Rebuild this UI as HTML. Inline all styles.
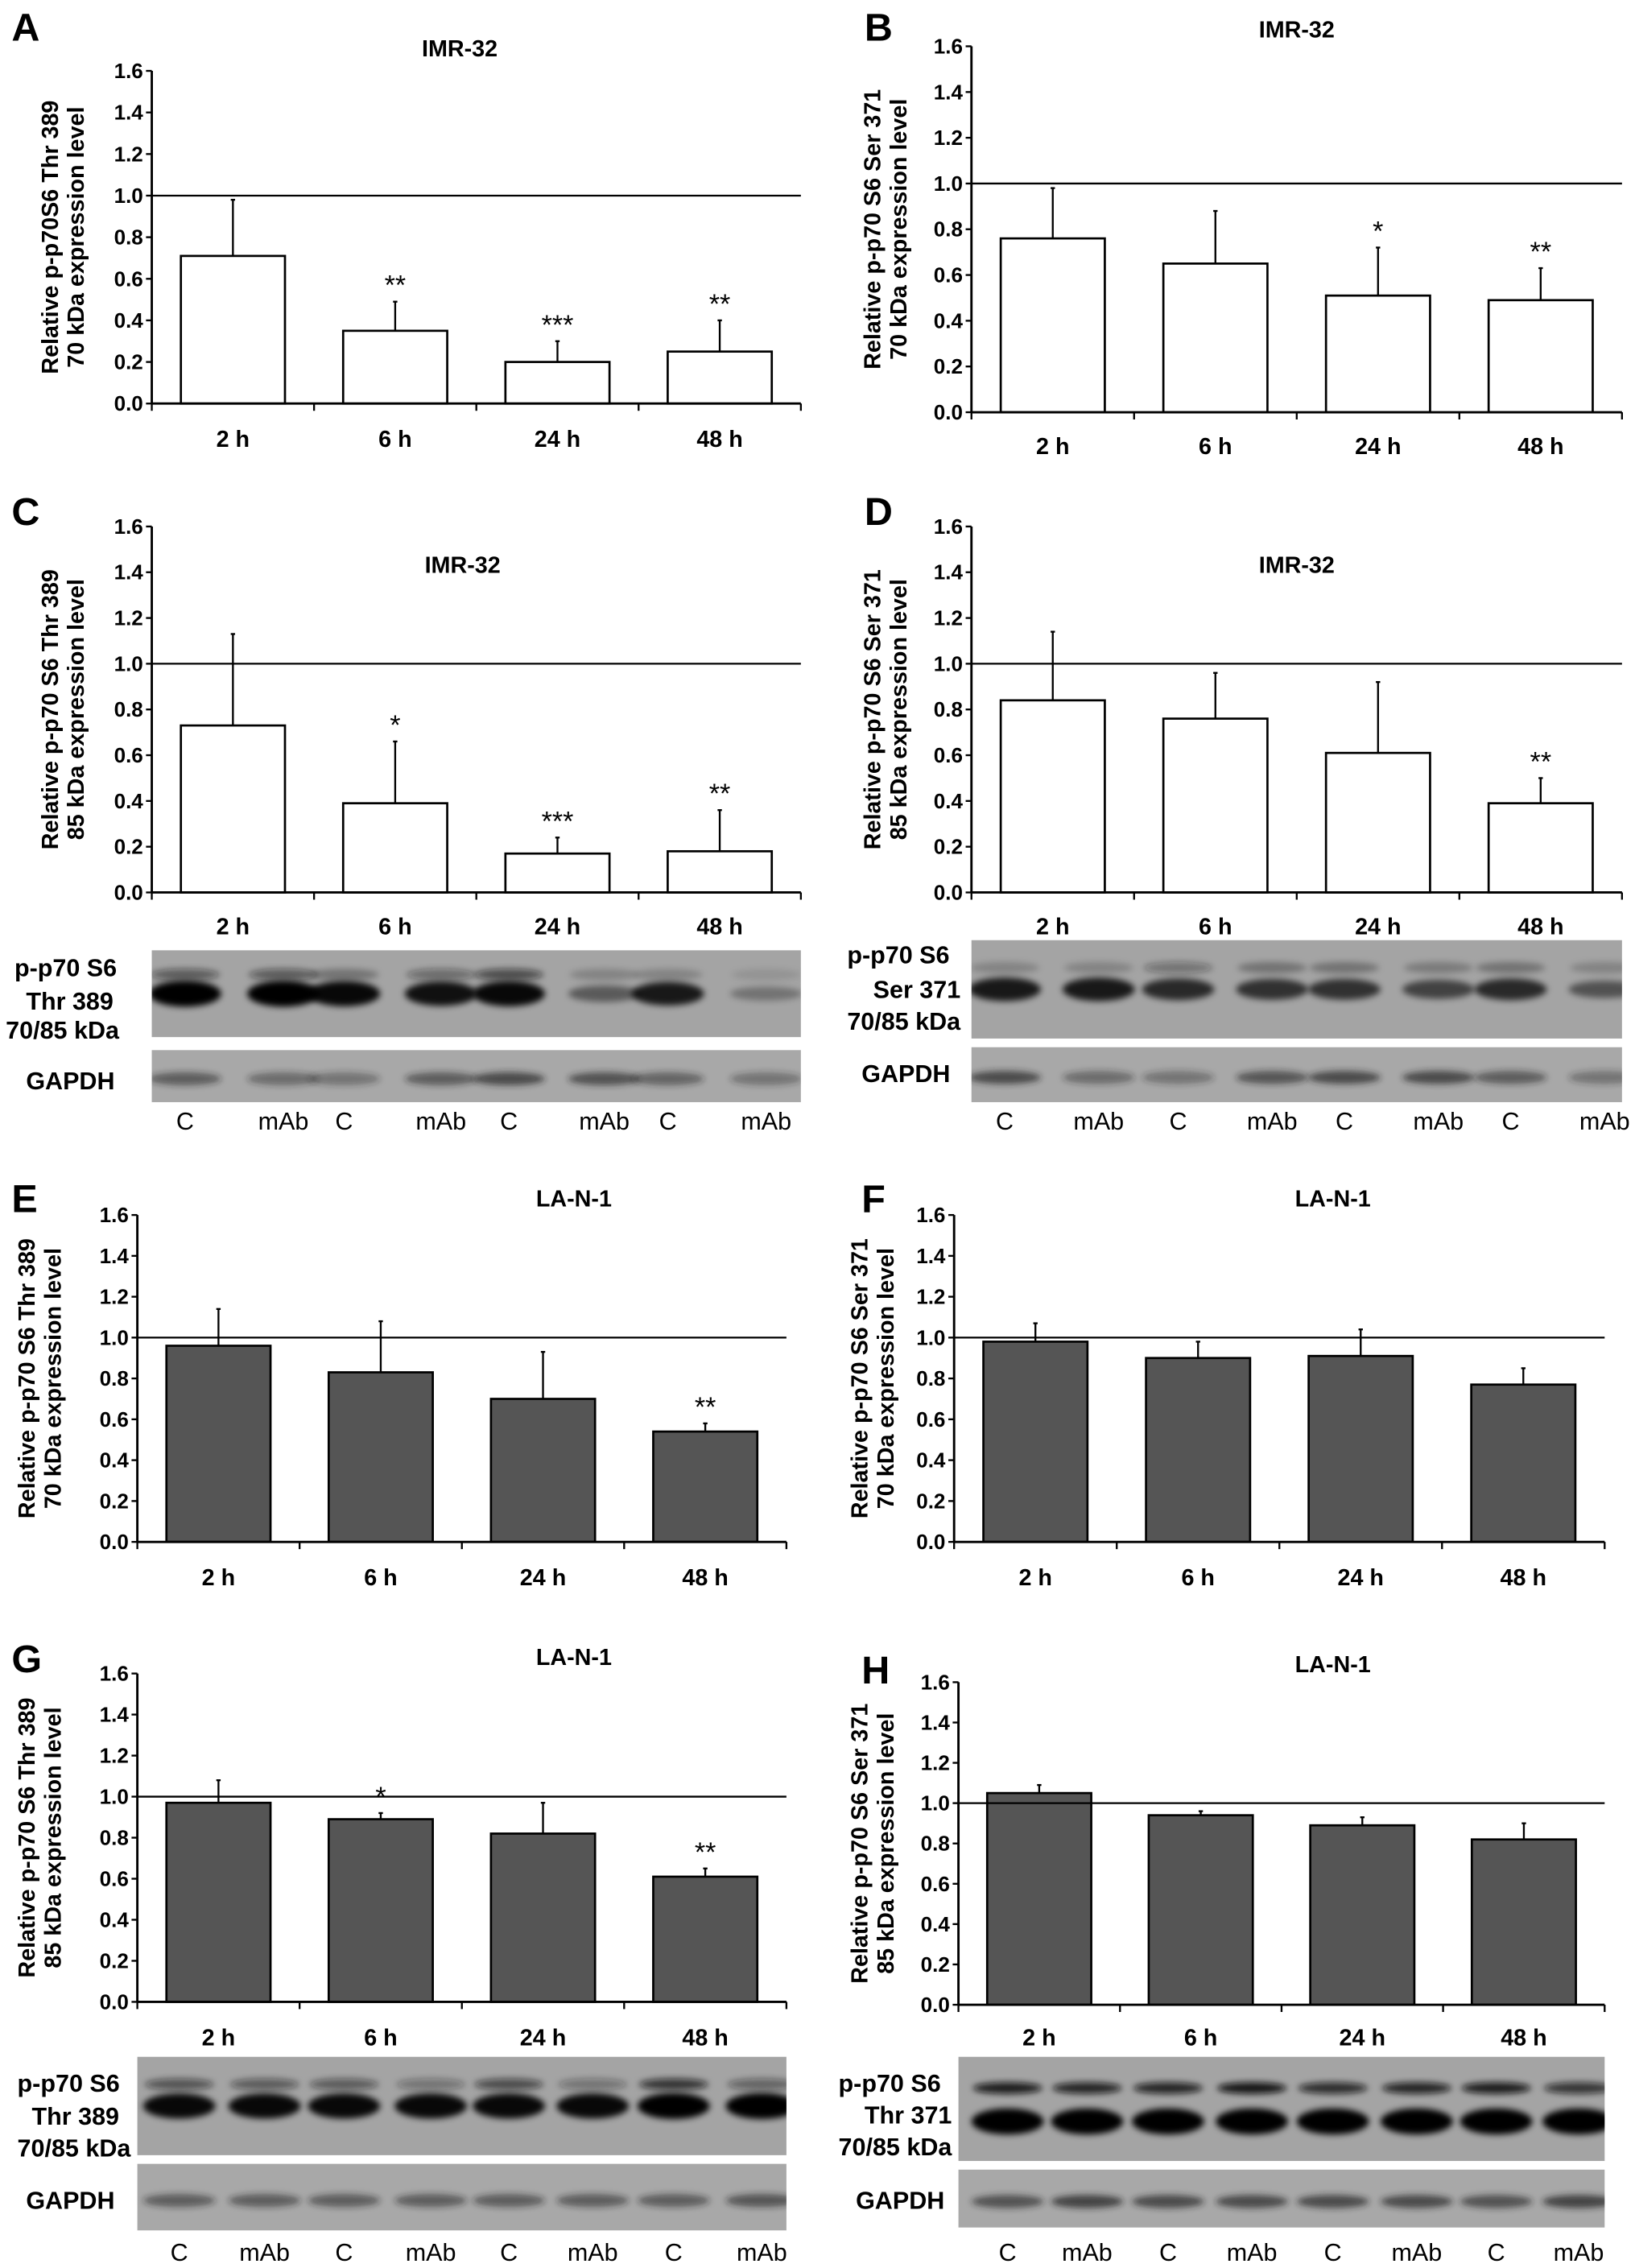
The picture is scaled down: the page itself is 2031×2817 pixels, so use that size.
<!DOCTYPE html>
<html><head><meta charset="utf-8">
<style>
html,body{margin:0;padding:0;background:#fff;}
svg{display:block;}
text{font-family:"Liberation Sans",Arial,sans-serif;font-weight:bold;fill:#000;}
</style></head>
<body>
<svg id="fig" xmlns="http://www.w3.org/2000/svg" width="2031" height="2817" viewBox="0 0 1131 1568" preserveAspectRatio="none">
<defs><filter id="blur" x="-20%" y="-50%" width="140%" height="200%"><feGaussianBlur stdDeviation="2.2"/></filter></defs>
</svg>
<script>
const categories = ["2 h","6 h","24 h","48 h"];
const ticks = [0,0.2,0.4,0.6,0.8,1.0,1.2,1.4,1.6];
const tickLabels = ["0.0","0.2","0.4","0.6","0.8","1.0","1.2","1.4","1.6"];
const valsA = [0.71,0.35,0.20,0.25]; const errA = [0.98,0.49,0.30,0.40]; const starsA = ["","**","***","**"];
const valsB = [0.76,0.65,0.51,0.49]; const errB = [0.98,0.88,0.72,0.63]; const starsB = ["","","*","**"];
const valsC = [0.73,0.39,0.17,0.18]; const errC = [1.13,0.66,0.24,0.36]; const starsC = ["","*","***","**"];
const valsD = [0.84,0.76,0.61,0.39]; const errD = [1.14,0.96,0.92,0.50]; const starsD = ["","","","**"];
const valsE = [0.96,0.83,0.70,0.54]; const errE = [1.14,1.08,0.93,0.58]; const starsE = ["","","","**"];
const valsF = [0.98,0.90,0.91,0.77]; const errF = [1.07,0.98,1.04,0.85]; const starsF = ["","","",""];
const valsG = [0.97,0.89,0.82,0.61]; const errG = [1.08,0.92,0.97,0.65]; const starsG = ["","*","","**"];
const valsH = [1.05,0.94,0.89,0.82]; const errH = [1.09,0.96,0.93,0.90]; const starsH = ["","","",""];
const laneLabels = ["C","mAb","C","mAb","C","mAb","C","mAb"];

const NS="http://www.w3.org/2000/svg";
const svg=document.getElementById('fig');
function mk(tag,attrs,parent,txt){const e=document.createElementNS(NS,tag);for(const k in attrs)e.setAttribute(k,attrs[k]);if(txt!==undefined)e.textContent=txt;(parent||svg).appendChild(e);return e;}

const panels=[
 {id:'a',L:'A',lx:8,ly:20,x0:105,x1:554,yTop:49,yBot:279,title:'IMR-32',tx:318,ty:39,xl:309,ylab:['Relative p-p70S6 Thr 389','70 kDa expression level'],ylx:[40,58],fill:'#fff',vals:valsA,err:errA,stars:starsA},
 {id:'b',L:'B',lx:598,ly:20,x0:672,x1:1122,yTop:32,yBot:285,title:'IMR-32',tx:897,ty:26,xl:314,ylab:['Relative p-p70 S6 Ser 371','70 kDa expression level'],ylx:[609,627],fill:'#fff',vals:valsB,err:errB,stars:starsB},
 {id:'c',L:'C',lx:8,ly:355,x0:105,x1:554,yTop:364,yBot:617,title:'IMR-32',tx:320,ty:396,xl:646,ylab:['Relative p-p70 S6 Thr 389','85 kDa expression level'],ylx:[40,58],fill:'#fff',vals:valsC,err:errC,stars:starsC},
 {id:'d',L:'D',lx:598,ly:355,x0:672,x1:1122,yTop:364,yBot:617,title:'IMR-32',tx:897,ty:396,xl:646,ylab:['Relative p-p70 S6 Ser 371','85 kDa expression level'],ylx:[609,627],fill:'#fff',vals:valsD,err:errD,stars:starsD},
 {id:'e',L:'E',lx:8,ly:830,x0:95,x1:544,yTop:840,yBot:1066,title:'LA-N-1',tx:397,ty:834,xl:1096,ylab:['Relative p-p70 S6 Thr 389','70 kDa expression level'],ylx:[24,42],fill:'#555',vals:valsE,err:errE,stars:starsE},
 {id:'f',L:'F',lx:596,ly:830,x0:660,x1:1110,yTop:840,yBot:1066,title:'LA-N-1',tx:922,ty:834,xl:1096,ylab:['Relative p-p70 S6 Ser 371','70 kDa expression level'],ylx:[600,618],fill:'#555',vals:valsF,err:errF,stars:starsF},
 {id:'g',L:'G',lx:8,ly:1148,x0:95,x1:544,yTop:1157,yBot:1384,title:'LA-N-1',tx:397,ty:1151,xl:1414,ylab:['Relative p-p70 S6 Thr 389','85 kDa expression level'],ylx:[24,42],fill:'#555',vals:valsG,err:errG,stars:starsG},
 {id:'h',L:'H',lx:596,ly:1156,x0:663,x1:1110,yTop:1163,yBot:1386,title:'LA-N-1',tx:922,ty:1156,xl:1414,ylab:['Relative p-p70 S6 Ser 371','85 kDa expression level'],ylx:[600,618],fill:'#555',vals:valsH,err:errH,stars:starsH}
];

panels.forEach(p=>{
 const g=mk('g',{});
 
 
 const y=v=>p.yBot-(v/1.6)*(p.yBot-p.yTop);
 const bw=(p.x1-p.x0)/4;
 const x=i=>p.x0+bw*(i+0.5);
 const lt=mk('text',{x:p.lx,y:p.ly+8,'font-size':27},g,p.L);
 
 
 const tt=mk('text',{x:p.tx,y:p.ty,'font-size':16,'text-anchor':'middle'},g,p.title);
 
 
 const cy=(p.yTop+p.yBot)/2;
 p.ylab.forEach((s,k)=>{
  const t=mk('text',{x:p.ylx[k],y:cy,'font-size':16,'text-anchor':'middle',transform:`rotate(-90 ${p.ylx[k]} ${cy})`},g,s);
  
  
 });
 p.vals.forEach((v,i)=>{
  const bx=x(i)-36;
  mk('line',{x1:x(i),x2:x(i),y1:y(v),y2:y(p.err[i]),stroke:'#000','stroke-width':1.3},g);
  mk('line',{x1:x(i)-1.5,x2:x(i)+1.5,y1:y(p.err[i]),y2:y(p.err[i]),stroke:'#000','stroke-width':1.3},g);
  const r=mk('rect',{x:bx,y:y(v),width:72,height:y(0)-y(v),fill:p.fill,stroke:'#000','stroke-width':1.5},g);
  
  
  if(p.stars[i]){
   const st=mk('text',{x:x(i),y:y(p.err[i])-5,'font-size':19,style:'font-weight:normal','text-anchor':'middle'},g,p.stars[i]);
   
   
  }
  const xt=mk('text',{x:x(i),y:p.xl,'font-size':16,'text-anchor':'middle'},g,categories[i]);
  
  
 });
 const rl=mk('line',{x1:p.x0,x2:p.x1,y1:y(1),y2:y(1),stroke:'#000','stroke-width':1.3},g);
 
 
 mk('line',{x1:p.x0,x2:p.x0,y1:p.yTop,y2:p.yBot,stroke:'#000','stroke-width':1.6},g);
 mk('line',{x1:p.x0,x2:p.x1,y1:p.yBot,y2:p.yBot,stroke:'#000','stroke-width':1.6},g);
 for(let i=0;i<=4;i++)mk('line',{x1:p.x0+bw*i,x2:p.x0+bw*i,y1:p.yBot,y2:p.yBot+5,stroke:'#000','stroke-width':1.3},g);
 ticks.forEach((t,k)=>{
  mk('line',{x1:p.x0-4,x2:p.x0,y1:y(t),y2:y(t),stroke:'#000','stroke-width':1.3},g);
  const tl=mk('text',{x:p.x0-6,y:y(t)+5,'font-size':14.5,'text-anchor':'end'},g,tickLabels[k]);
  
  
 });
});

const blots=[
 {id:'c',x0:105,x1:554,mTop:657,mBot:717,gTop:726,gBot:762,labels:[['p-p70 S6',10,675],['Thr 389',18,698],['70/85 kDa',4,718],['GAPDH',18,753]],lanesX:[128,196,238,305,352,418,462,530],laneY:781,
  upper:[0.5,0.5,0.3,0.4,0.6,0.2,0.2,0.1],lower:[1,1,0.95,0.9,0.95,0.45,0.85,0.3],gap:[0.55,0.45,0.4,0.55,0.7,0.65,0.5,0.4]},
 {id:'d',x0:672,x1:1122,mTop:650,mBot:718,gTop:724,gBot:762,labels:[['p-p70 S6',586,666],['Ser 371',604,690],['70/85 kDa',586,712],['GAPDH',596,748]],lanesX:[695,760,815,880,930,995,1045,1110],laneY:781,
  upper:[0.2,0.2,0.35,0.3,0.3,0.25,0.3,0.2],lower:[0.85,0.85,0.75,0.7,0.7,0.6,0.75,0.5],gap:[0.7,0.45,0.4,0.6,0.7,0.7,0.55,0.4]},
 {id:'g',x0:95,x1:544,mTop:1422,mBot:1490,gTop:1496,gBot:1542,labels:[['p-p70 S6',12,1446],['Thr 389',22,1469],['70/85 kDa',12,1491],['GAPDH',18,1527]],lanesX:[124,183,238,298,352,410,466,527],laneY:1563,
  upper:[0.55,0.5,0.5,0.35,0.6,0.35,0.75,0.45],lower:[0.95,0.95,0.95,0.95,0.95,0.95,1,1],gap:[0.55,0.55,0.55,0.55,0.55,0.55,0.55,0.6]},
 {id:'h',x0:663,x1:1110,mTop:1422,mBot:1494,gTop:1500,gBot:1540,labels:[['p-p70 S6',580,1446],['Thr 371',598,1468],['70/85 kDa',580,1490],['GAPDH',592,1527]],lanesX:[697,752,808,866,922,980,1035,1092],laneY:1563,
  upper:[0.9,0.85,0.85,0.95,0.8,0.85,0.9,0.75],lower:[1,1,1,1,1,1,1,1],gap:[0.65,0.75,0.7,0.7,0.7,0.7,0.65,0.75]}
];
blots.forEach(b=>{
 const g=mk('g',{});
 
 
 const cm=mk('clipPath',{id:'cm'+b.id},g); mk('rect',{x:b.x0,y:b.mTop,width:b.x1-b.x0,height:b.mBot-b.mTop},cm);
 const cg=mk('clipPath',{id:'cg'+b.id},g); mk('rect',{x:b.x0,y:b.gTop,width:b.x1-b.x0,height:b.gBot-b.gTop},cg);
 mk('rect',{x:b.x0,y:b.mTop,width:b.x1-b.x0,height:b.mBot-b.mTop,fill:'#a4a4a4'},g);
 mk('rect',{x:b.x0,y:b.gTop,width:b.x1-b.x0,height:b.gBot-b.gTop,fill:'#a8a8a8'},g);
 const gm=mk('g',{'clip-path':`url(#cm${b.id})`},g);
 const gg=mk('g',{'clip-path':`url(#cg${b.id})`},g);
 const mh=b.mBot-b.mTop, gh=b.gBot-b.gTop;
 b.lanesX.forEach((lx,i)=>{
  const uy=b.mTop+mh*(b.id==='h'?0.3:0.28), ly=b.mTop+mh*(b.id==='h'?0.62:0.5);
  mk('ellipse',{cx:lx,cy:uy,rx:24,ry:4,fill:'#111','fill-opacity':b.upper[i],filter:'url(#blur)'},gm);
  mk('ellipse',{cx:lx,cy:ly,rx:25,ry:3+6*b.lower[i],fill:'#000','fill-opacity':b.lower[i],filter:'url(#blur)'},gm);
  mk('ellipse',{cx:lx,cy:b.gTop+gh*0.55,rx:25,ry:4.5,fill:'#222','fill-opacity':b.gap[i],filter:'url(#blur)'},gg);
  const t=mk('text',{x:lx,y:b.laneY,'font-size':17,style:'font-weight:normal','text-anchor':'middle'},g,laneLabels[i]);
  
  
 });
 b.labels.forEach(l=>{
  const t=mk('text',{x:l[1],y:l[2],'font-size':17},g,l[0]);
  
  
 });
});
</script>
</body></html>
